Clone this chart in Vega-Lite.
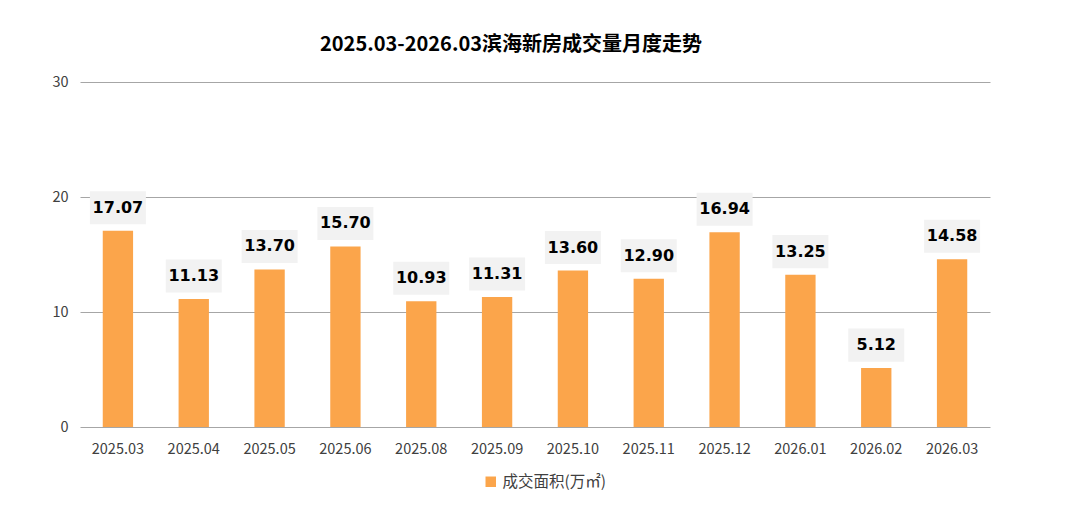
{
  "$schema": "https://vega.github.io/schema/vega-lite/v6.json",
  "autosize": {"type": "none"},
  "padding": {"left": 80, "top": 82, "right": 90, "bottom": 79},
  "width": 910,
  "height": 345,
  "background": "white",
  "title": {
    "text": "2025.03-2026.03滨海新房成交量月度走势",
    "font": "Noto Sans CJK SC",
    "fontSize": 20,
    "fontWeight": "bold",
    "color": "#000000",
    "anchor": "middle",
    "dx": -24,
    "offset": 19
  },
  "data": {
    "values": [
      {"month": "2025.03", "area": 17.07, "series": "成交面积(万㎡)"},
      {"month": "2025.04", "area": 11.13, "series": "成交面积(万㎡)"},
      {"month": "2025.05", "area": 13.70, "series": "成交面积(万㎡)"},
      {"month": "2025.06", "area": 15.70, "series": "成交面积(万㎡)"},
      {"month": "2025.08", "area": 10.93, "series": "成交面积(万㎡)"},
      {"month": "2025.09", "area": 11.31, "series": "成交面积(万㎡)"},
      {"month": "2025.10", "area": 13.60, "series": "成交面积(万㎡)"},
      {"month": "2025.11", "area": 12.90, "series": "成交面积(万㎡)"},
      {"month": "2025.12", "area": 16.94, "series": "成交面积(万㎡)"},
      {"month": "2026.01", "area": 13.25, "series": "成交面积(万㎡)"},
      {"month": "2026.02", "area": 5.12, "series": "成交面积(万㎡)"},
      {"month": "2026.03", "area": 14.58, "series": "成交面积(万㎡)"}
    ]
  },
  "encoding": {
    "x": {
      "field": "month",
      "type": "ordinal",
      "sort": null,
      "scale": {"paddingInner": 0.6, "paddingOuter": 0.3},
      "axis": {
        "title": null,
        "labelAngle": 0,
        "labelFont": "Noto Sans CJK SC",
        "labelFontSize": 14.5,
        "labelColor": "#404040",
        "labelPadding": 15,
        "ticks": false,
        "domain": false
      }
    },
    "y": {
      "field": "area",
      "type": "quantitative",
      "scale": {"domain": [0, 30]},
      "axis": {
        "title": null,
        "values": [0, 10, 20, 30],
        "labelFont": "Noto Sans CJK SC",
        "labelFontSize": 14.5,
        "labelColor": "#404040",
        "labelPadding": 12,
        "ticks": false,
        "domain": false,
        "grid": true,
        "gridColor": "#A6A6A6",
        "gridWidth": 1
      }
    }
  },
  "layer": [
    {
      "mark": {"type": "bar", "color": "#FBA54B"},
      "encoding": {
        "color": {
          "field": "series",
          "type": "nominal",
          "scale": {"range": ["#FBA54B"]},
          "legend": {
            "title": null,
            "orient": "none",
            "legendX": 403,
            "legendY": 392,
            "symbolType": "square",
            "symbolSize": 110,
            "labelFont": "Noto Sans CJK SC",
            "labelFontSize": 15.5,
            "labelColor": "#404040",
            "labelOffset": 4
          }
        }
      }
    },
    {
      "mark": {
        "type": "point",
        "shape": "M-1,-0.59L1,-0.59L1,0.59L-1,0.59Z",
        "filled": true,
        "color": "#F2F2F2",
        "opacity": 1,
        "size": 3136,
        "yOffset": -23
      }
    },
    {
      "mark": {
        "type": "text",
        "font": "DejaVu Sans",
        "fontSize": 16,
        "fontWeight": "bold",
        "color": "#000000",
        "baseline": "middle",
        "dy": -23
      },
      "encoding": {
        "text": {"field": "area", "type": "quantitative", "format": ".2f"}
      }
    }
  ],
  "config": {
    "view": {"stroke": null}
  }
}
